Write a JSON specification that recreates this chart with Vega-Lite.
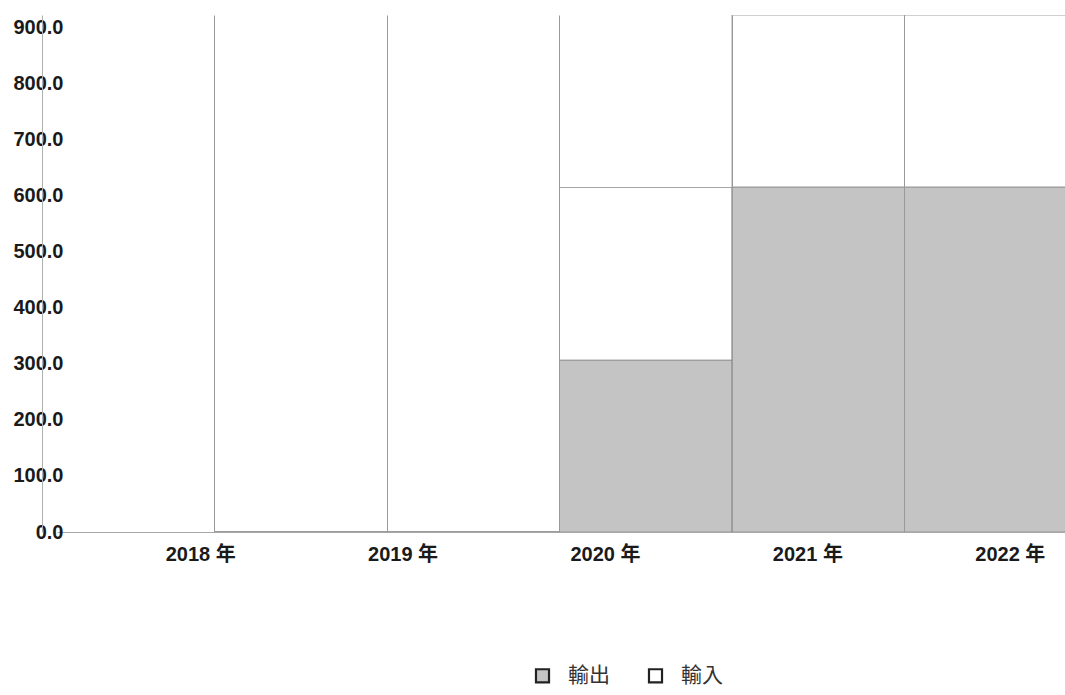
{
  "$schema": "https://vega.github.io/schema/vega-lite/v6.json",
  "width": 1023,
  "height": 517,
  "autosize": {"type": "none"},
  "padding": {"left": 42, "top": 15, "right": 0, "bottom": 163},
  "background": "white",
  "config": {"view": {"stroke": null}, "font": "Liberation Sans"},
  "data": {
    "values": [
      {"year": "2018 年", "series": "輸出", "value": 0},
      {"year": "2018 年", "series": "輸入", "value": 0},
      {"year": "2019 年", "series": "輸出", "value": 0},
      {"year": "2019 年", "series": "輸入", "value": 0},
      {"year": "2020 年", "series": "輸出", "value": 307},
      {"year": "2020 年", "series": "輸入", "value": 308},
      {"year": "2021 年", "series": "輸出", "value": 616},
      {"year": "2021 年", "series": "輸入", "value": 307},
      {"year": "2022 年", "series": "輸出", "value": 616},
      {"year": "2022 年", "series": "輸入", "value": 307}
    ]
  },
  "layer": [
    {
      "mark": {"type": "bar", "stroke": "#8c8c8c", "strokeWidth": 0.8, "clip": true},
      "encoding": {
        "x": {
          "field": "year", "type": "nominal", "sort": null,
          "scale": {"type": "band", "range": [172.5, 1035], "paddingInner": 0, "paddingOuter": 0},
          "axis": {"orient": "bottom", "title": null, "labels": false, "ticks": false, "domain": false,
                   "grid": true, "gridColor": "#9a9a9a", "gridWidth": 1, "bandPosition": 0, "zindex": 1}
        },
        "y": {
          "field": "value", "type": "quantitative", "stack": "zero",
          "scale": {"domain": [0, 923], "nice": false, "zero": true},
          "axis": {"title": null, "values": [0, 100, 200, 300, 400, 500, 600, 700, 800, 900], "format": ".1f",
                   "labelFont": "Liberation Sans", "labelFontWeight": "bold", "labelFontSize": 20,
                   "labelColor": "#1a1a1a", "ticks": false, "grid": false, "domainColor": "#b0b0b0",
                   "labelPadding": -21}
        },
        "color": {
          "field": "series", "type": "nominal",
          "scale": {"domain": ["輸出", "輸入"], "range": ["#c4c4c4", "#ffffff"]},
          "legend": {"title": null, "orient": "none", "legendX": 490, "legendY": 650, "direction": "horizontal",
                     "symbolType": "square", "symbolSize": 170, "symbolStrokeColor": "#222222", "symbolStrokeWidth": 2.2,
                     "symbolOpacity": 1,
                     "labelFont": "Noto Sans CJK TC", "labelFontSize": 21, "labelColor": "#333333",
                     "labelOffset": 15, "columnPadding": 34}
        },
        "order": {"field": "series", "sort": "descending"}
      }
    },
    {
      "mark": {"type": "point", "opacity": 0},
      "encoding": {
        "x": {
          "field": "year", "type": "nominal", "sort": null,
          "scale": {"type": "band", "range": [15, 1112], "paddingInner": 0, "paddingOuter": 0.21},
          "axis": {"orient": "bottom", "title": null, "labelFont": "Liberation Sans, Noto Sans CJK TC",
                   "labelFontWeight": "bold", "labelFontSize": 20, "labelColor": "#1a1a1a", "ticks": false,
                   "domainColor": "#a8a8a8", "labelPadding": 12, "grid": false, "labelAngle": 0}
        }
      }
    }
  ],
  "resolve": {"scale": {"x": "independent"}, "axis": {"x": "independent"}}
}
